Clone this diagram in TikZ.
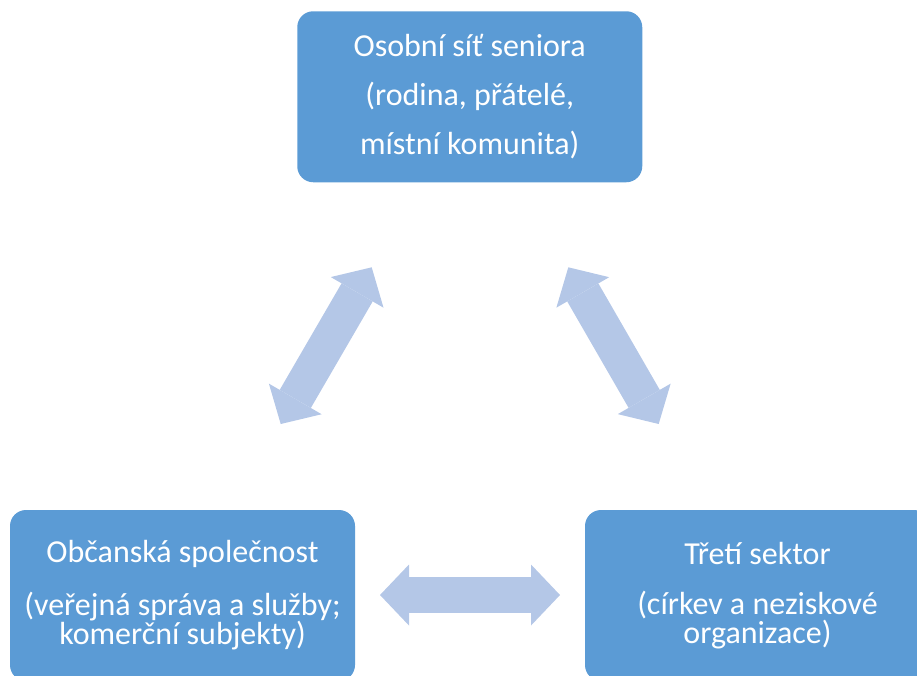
\documentclass[tikz,border=0pt]{standalone}
\usepackage{fontspec}
\setmainfont{Carlito}
\usepackage{tikz}
\usetikzlibrary{arrows.meta}
\definecolor{boxblue}{RGB}{91,155,213}
\definecolor{linkblue}{RGB}{180,199,231}
\tikzset{sectorbox/.style={shape=rectangle,rounded corners=16pt,fill=boxblue,text=white,align=center,minimum width=345pt,minimum height=171pt,inner sep=0pt,font=\fontsize{32}{29}\selectfont}}
\tikzset{linktip/.tip={Triangle[length=29pt,width=61pt,line width=0pt]}}
\tikzset{link/.style={draw=linkblue,line width=36pt,linktip-linktip}}

\begin{document}
\begin{tikzpicture}[x=1pt,y=-1pt]
            \useasboundingbox (0,0) rectangle (917,675);
            \clip (0,0) rectangle (917,675);
            % setup the boxes
            \node[sectorbox] (personal) at (469.75,96.75) {Osobní síť seniora\\[20pt](rodina, přátelé,\\[20pt]místní komunita)};
            \node[sectorbox] (civil) at (182.5,595.5) {Občanská společnost\\[24pt](veřejná správa a služby;\\komerční subjekty)};
            \node[sectorbox] (third) at (757.5,595.5) {Třetí sektor\\[21pt](církev a neziskové\\organizace)};
            % ends of the links
            \coordinate (civil-in) at (280.7,424);
            \coordinate (personal-left) at (371.7,267.3);
            \coordinate (personal-right) at (568.3,267.3);
            \coordinate (third-in) at (658.7,424);
            \coordinate (civil-out) at (380,595);
            \coordinate (third-out) at (560,595);
            % draw the links
            \draw[link] (civil-in) -- (personal-left);
            \draw[link] (personal-right) -- (third-in);
            \draw[link] (civil-out) -- (third-out);
        \end{tikzpicture}
\end{document}
